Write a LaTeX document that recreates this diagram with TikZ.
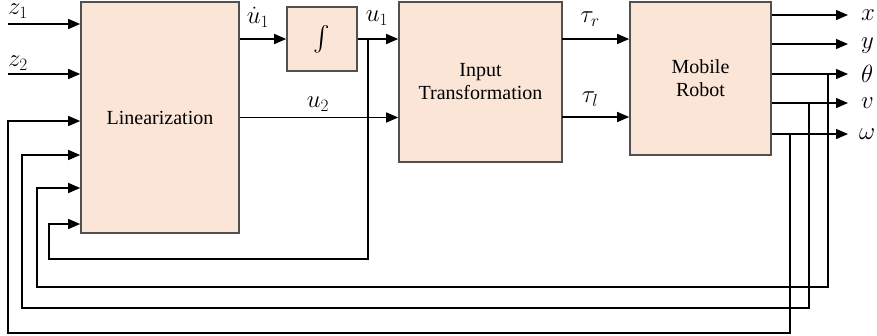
\documentclass[tikz,border=0pt]{standalone}
\usepackage{amsmath}
\usepackage{fontspec}
\setmainfont{Liberation Serif}
\usetikzlibrary{arrows.meta,positioning}
\definecolor{blockfill}{HTML}{FBE5D6}
\definecolor{blockline}{HTML}{505050}
\tikzset{
  block/.style={draw=blockline, line width=1.6pt, fill=blockfill, align=center, inner sep=0pt},
  arr/.style={-{Triangle[length=12pt,width=10pt]}, line width=1.3pt},
  lbl/.style={inner sep=0pt, font=\fontsize{24}{28}\selectfont}
}
\begin{document}
\begin{tikzpicture}[x=1pt, y=-1pt, font=\fontsize{20}{23}\selectfont]
    \useasboundingbox (0,0) rectangle (877,335);
    \node[block, minimum width=158pt, minimum height=231pt] (Lin) at (160,117.5) {Linearization};
    \node[block, minimum width=70pt, minimum height=64pt, font=\fontsize{24}{28}\selectfont] (Int) at (322,39) {$\int$};
    \node[block, minimum width=163pt, minimum height=160pt] (Trafo) at (480.5,82) {Input\\Transformation};
    \node[block, minimum width=141pt, minimum height=153pt] (Robot) at (700.5,78.5) {Mobile\\Robot};
	%
    \coordinate (zA) at (8,24);
    \coordinate (zB) at (8,74);
    \node[lbl] at (18,11) {$z_1$};
    \node[lbl] at (18,63) {$z_2$};
    \draw[arr] (zA) to (zA -| Lin.west);
    \draw[arr] (zB) to (zB -| Lin.west);
  	%
    \draw[arr] (Lin.east |- Int.west) to (Int.west);
    \node[lbl] at (258,17) {$\dot u_1$};
    \draw[arr] (Int.east) to (Int.east -| Trafo.west);
    \node[lbl] at (377,18) {$u_1$};
    \draw[arr] (Lin.east) to (Lin.east -| Trafo.west);
    \node[lbl] at (318,104) {$u_2$};
  	%
    \coordinate (tr) at (562,39);
    \coordinate (tl) at (562,117);
    \draw[arr] (tr) to (tr -| Robot.west);
    \draw[arr] (tl) to (tl -| Robot.west);
    \node[lbl] at (590,19) {$\tau_r$};
    \node[lbl] at (590,99) {$\tau_l$};
  	%
    \coordinate (oX) at (848,15);
    \coordinate (oY) at (848,44);
    \coordinate (oTh) at (848,74);
    \coordinate (oV) at (848,103);
    \coordinate (oW) at (848,134);
    \draw[arr] (Robot.east |- oX) to (oX);
    \draw[arr] (Robot.east |- oY) to (oY);
    \draw[arr] (Robot.east |- oTh) to (oTh);
    \draw[arr] (Robot.east |- oV) to (oV);
    \draw[arr] (Robot.east |- oW) to (oW);
    \node[lbl, anchor=west] at (861,15) {$x$};
    \node[lbl, anchor=west] at (861,46) {$y$};
    \node[lbl, anchor=west] at (861,74) {$\theta$};
    \node[lbl, anchor=west] at (861,103) {$v$};
    \node[lbl, anchor=west] at (859,134) {$\omega$};
  	%
    \coordinate (jU) at (368,39);
    \coordinate (cU) at (49,259);
    \draw[arr] (jU) |- (cU) |- (Lin.west |- 0,224);
    \coordinate (jTh) at (828,74);
    \coordinate (cTh) at (37,287);
    \draw[arr] (jTh) |- (cTh) |- (Lin.west |- 0,188);
    \coordinate (jV) at (809,103);
    \coordinate (cV) at (22,308);
    \draw[arr] (jV) |- (cV) |- (Lin.west |- 0,155);
    \coordinate (jW) at (790,134);
    \coordinate (cW) at (8,333);
    \draw[arr] (jW) |- (cW) |- (Lin.west |- 0,121);
\end{tikzpicture}
\end{document}
